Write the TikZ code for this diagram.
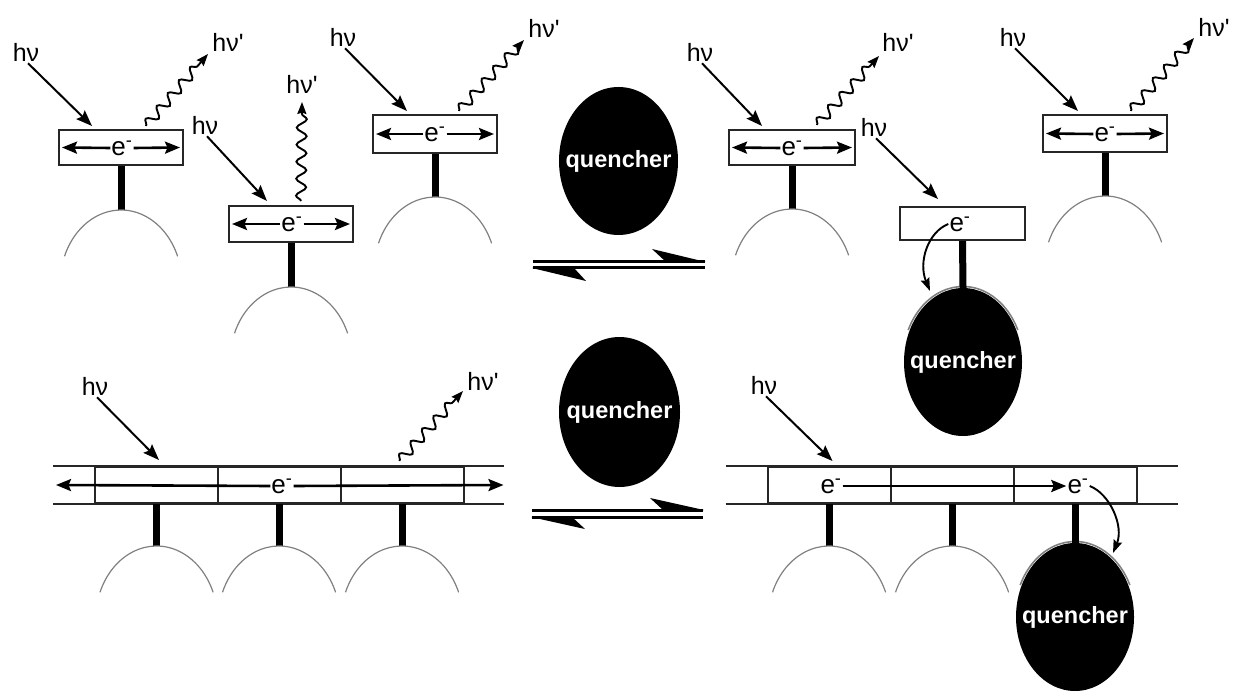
\documentclass[tikz,border=0pt]{standalone}
\usepackage{fontspec}
\newfontfamily\lsans{Liberation Sans}
\usetikzlibrary{arrows.meta,shapes.geometric,decorations.pathmorphing,calc}
\newcommand\bumpat[1]{\draw[bump] (#1) ++(-56.5,46.3) arc[start angle=-158,end angle=-22,x radius=61,y radius=74];}
\newcommand\qtext{\makebox[0pt]{quencher}}
\begin{document}
\begin{tikzpicture}[x=1pt,y=-1pt,
  lbl/.style={font=\lsans\fontsize{25}{25}\selectfont, inner sep=0pt},
  elec/.style={font=\lsans\fontsize{26}{26}\selectfont, inner sep=1pt, fill=white},
  chrom/.style={draw=black!85, line width=2pt, fill=white, minimum width=124pt, minimum height=36pt, inner sep=0pt},
  cell/.style={draw=black!85, line width=2pt, minimum width=123pt, minimum height=36pt, inner sep=0pt},
  rail/.style={draw=black!85, line width=2pt},
  stem/.style={line width=7pt},
  bump/.style={draw=black!50, line width=1.2pt},
  photon/.style={line width=2pt, -{Stealth[length=16pt,width=12pt,inset=2.5pt]}},
  emit/.style={line width=1.9pt, decorate, decoration={snake, amplitude=5pt, segment length=17pt, post length=8pt}, -{Stealth[length=12pt,width=9pt,inset=1.5pt]}},
  inner/.style={line width=2.6pt, -{Stealth[length=15pt,width=12pt,inset=2.5pt]}},
  hop/.style={line width=1.9pt, -{Stealth[length=13pt,width=9pt,inset=2pt]}},
  quencher/.style={ellipse, fill=black, text=white, minimum width=119pt, minimum height=148pt, inner sep=0pt, font=\lsans\bfseries\fontsize{23.5}{23.5}\selectfont},
  eqline/.style={line width=3pt},
]
\useasboundingbox (0,0) rectangle (1236,692);

% ---------- top left: free chromophores ----------
\node[chrom, minimum height=35pt] (A) at (121,147.5) {};
\node[elec] (eA) at (122,148) {e\textsuperscript{-}};
\draw[inner] (eA.west) -- ($(A.west)+(4,0)$);
\draw[inner] (eA.east) -- ($(A.east)+(-4,0)$);
\draw[stem] (A.south) -- ++(0,44) coordinate (tA);
\bumpat{tA}
\node[lbl] (hA) at (26,52) {hν};
\node[lbl] (hpA) at (228,42) {hν'};
\draw[photon] ($(hA.south)+(2,2)$) -- ($(A.north west)+(34,-3)$);
\draw[emit] ($(A.north west)+(88,-3)$) -- ($(hpA.center)+(-20,12)$);

\node[chrom] (B) at (291,224) {};
\node[elec] (eB) at (292,224) {e\textsuperscript{-}};
\draw[inner] (eB.west) -- ($(B.west)+(4,0)$);
\draw[inner] (eB.east) -- ($(B.east)+(-4,0)$);
\draw[stem] (B.south) -- ++(0,44) coordinate (tB);
\bumpat{tB}
\node[lbl] (hB) at (205,125) {hν};
\node[lbl] (hpB) at (302,84) {hν'};
\draw[photon] ($(hB.south)+(2,2)$) -- ($(B.north west)+(39,-4)$);
\draw[emit] ($(B.north west)+(73,-4)$) -- ($(hpB.center)+(0,18)$);

\node[chrom, minimum height=38pt] (C) at (435,134) {};
\node[elec] (eC) at (435,134) {e\textsuperscript{-}};
\draw[inner] (eC.west) -- ($(C.west)+(4,0)$);
\draw[inner] (eC.east) -- ($(C.east)+(-4,0)$);
\draw[stem] (C.south) -- ++(0,43) coordinate (tC);
\bumpat{tC}
\node[lbl] (hC) at (343,37) {hν};
\node[lbl] (hpC) at (544,28) {hν'};
\draw[photon] ($(hC.south)+(2,2)$) -- ($(C.north west)+(35,-3)$);
\draw[emit] ($(C.north west)+(87,-3)$) -- ($(hpC.center)+(-20,12)$);

% free quencher + equilibrium (top)
\node[quencher] (Q1) at (618.5,161) {\qtext};
\draw[eqline] (533,262) -- (705,262);
\fill (652,249) -- (706,262) -- (666,262) -- cycle;
\draw[eqline] (533,268) -- (705,268);
\fill (532,268) -- (586,281) -- (574,268) -- cycle;

% ---------- top right ----------
\node[chrom, minimum width=126pt, minimum height=35pt] (D) at (792,147.5) {};
\node[elec] (eD) at (792,148) {e\textsuperscript{-}};
\draw[inner] (eD.west) -- ($(D.west)+(4,0)$);
\draw[inner] (eD.east) -- ($(D.east)+(-4,0)$);
\draw[stem] (D.south) -- ++(0,43) coordinate (tD);
\bumpat{tD}
\node[lbl] (hD) at (700,52) {hν};
\node[lbl] (hpD) at (898,42) {hν'};
\draw[photon] ($(hD.south)+(2,2)$) -- ($(D.north west)+(34,-3)$);
\draw[emit] ($(D.north west)+(89,-4)$) -- ($(hpD.center)+(-19,14)$);

\node[quencher, minimum width=118pt, minimum height=148pt] (Q3) at (963,362) {\qtext};
\draw[bump, line width=1.6pt] (Q3.center) ++(-155:60.5 and 75.5) arc[start angle=-155,end angle=-25,x radius=60.5,y radius=75.5];
\node[chrom, minimum width=125pt, minimum height=33pt] (E) at (962.5,223.5) {};
\node[lbl, font=\lsans\fontsize{26}{26}\selectfont, inner sep=1pt] (eE) at (960,224) {e\textsuperscript{-}};
\draw[stem] (E.south) -- (Q3.north);
\node[lbl] (hE) at (874,127) {hν};
\draw[photon] ($(hE.south)+(2,2)$) -- ($(E.north west)+(39,-7)$);
\draw[hop] (eE.west) .. controls (928,232) and (918,262) .. (930,291);

\node[chrom, minimum height=37pt] (F) at (1105,133.5) {};
\node[elec] (eF) at (1105,134) {e\textsuperscript{-}};
\draw[inner] (eF.west) -- ($(F.west)+(4,0)$);
\draw[inner] (eF.east) -- ($(F.east)+(-4,0)$);
\draw[stem] (F.south) -- ++(0,43) coordinate (tF);
\bumpat{tF}
\node[lbl] (hF) at (1013,37) {hν};
\node[lbl] (hpF) at (1214,27) {hν'};
\draw[photon] ($(hF.south)+(2,2)$) -- ($(F.north west)+(36,-3)$);
\draw[emit] ($(F.north west)+(89,-3)$) -- ($(hpF.center)+(-20,11)$);

% ---------- bottom left: polymer ----------
\node[cell] (L1) at (156.5,485) {};
\node[cell] (L2) at (279,485) {};
\node[cell] (L3) at (402,485) {};
\draw[rail] ($(L1.north west)+(-41,0)$) -- ($(L3.north east)+(39,0)$);
\draw[rail] ($(L1.south west)+(-41,0)$) -- ($(L3.south east)+(39,0)$);
\foreach \c in {L1,L2,L3}{
  \draw[stem] (\c.south) -- ++(0,42) coordinate (t\c);
  \bumpat{t\c}
}
\node[elec, fill=none] (eL) at (282,486) {e\textsuperscript{-}};
\draw[inner] (eL.west) -- ($(L1.west)+(-38,0)$);
\draw[inner] (eL.east) -- ($(L3.east)+(39,0)$);
\node[lbl] (hL) at (95,386) {hν};
\node[lbl] (hpL) at (483,381) {hν'};
\draw[photon] ($(hL.south)+(2,2)$) -- ($(L1.north west)+(65,-6)$);
\draw[emit] ($(L3.north west)+(60,-5)$) -- ($(hpL.center)+(-20,10)$);

% free quencher + equilibrium (bottom)
\node[quencher, minimum width=121pt, minimum height=150pt] (Q2) at (619.5,412) {\qtext};
\draw[eqline] (532,510) -- (703,510);
\fill (650,498) -- (704,510) -- (663,510) -- cycle;
\draw[eqline] (532,517) -- (703,517);
\fill (531,517) -- (585,529) -- (572,517) -- cycle;

% ---------- bottom right: polymer with quencher ----------
\node[cell] (R1) at (829,485) {};
\node[cell] (R2) at (952,485) {};
\node[cell] (R3) at (1075,485) {};
\draw[rail] ($(R1.north west)+(-41,0)$) -- ($(R3.north east)+(40,0)$);
\draw[rail] ($(R1.south west)+(-41,0)$) -- ($(R3.south east)+(40,0)$);
\foreach \c in {R1,R2}{
  \draw[stem] (\c.south) -- ++(0,42) coordinate (t\c);
  \bumpat{t\c}
}
\node[quencher, minimum width=118pt, minimum height=148pt] (Q4) at (1075,617) {\qtext};
\draw[bump, line width=1.6pt] (Q4.center) ++(-155:60.5 and 75.5) arc[start angle=-155,end angle=-25,x radius=60.5,y radius=75.5];
\draw[stem] (R3.south) -- (Q4.north);
\node[elec, fill=none] (eR1) at (831,486) {e\textsuperscript{-}};
\node[elec, fill=none] (eR2) at (1078,486) {e\textsuperscript{-}};
\draw[inner] (eR1.east) -- (eR2.west);
\node[lbl] (hR) at (764,385) {hν};
\draw[photon] ($(hR.south)+(2,2)$) -- ($(R1.north west)+(66,-5)$);
\draw[hop] (eR2.east) .. controls (1110,494) and (1124,526) .. (1113,553);
\end{tikzpicture}
\end{document}
